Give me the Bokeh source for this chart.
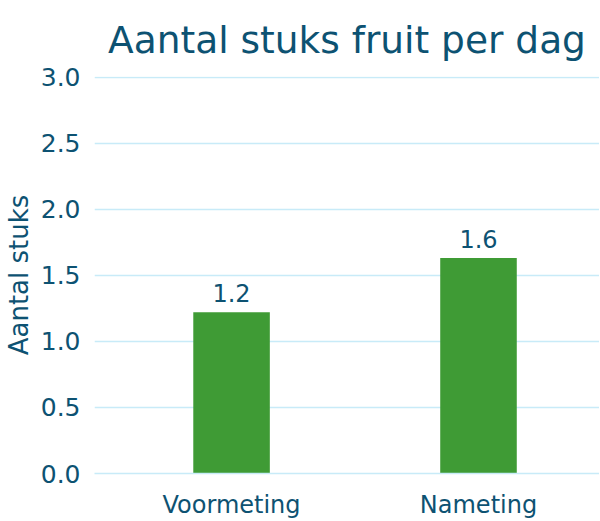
from bokeh.plotting import figure
from bokeh.models import ColumnDataSource, Range1d, FixedTicker
from bokeh.core.properties import value
from bokeh.embed import file_html
from bokeh.resources import INLINE

title_text = "Aantal stuks fruit per dag"
categories = ["Voormeting", "Nameting"]
values = [1.22, 1.63]
value_labels = ["1.2", "1.6"]
y_ticks = [0.0, 0.5, 1.0, 1.5, 2.0, 2.5, 3.0]

TEXT = "#0d5272"
GRID = "#c8ebf8"
BAR = "#3f9b35"
FONT = "DejaVu Sans"

xs = [i + 0.5 for i in range(len(categories))]
src = ColumnDataSource(dict(x=xs, top=values, lab=value_labels))

p = figure(frame_width=505, frame_height=397, output_backend="svg", toolbar_location=None,
           x_range=Range1d(-0.055, 1.99), y_range=Range1d(0, 3.004),
           min_border_left=87, min_border_right=0, min_border_top=0, min_border_bottom=0,
           title=title_text)
p.outline_line_color = None
p.background_fill_color = "white"
p.border_fill_color = "white"

p.title.text_font = FONT
p.title.text_font_size = "37.5px"
p.title.text_font_style = "normal"
p.title.text_color = TEXT
p.title.align = "center"
p.title.offset = 0
p.title.standoff = 30
p.title.text_line_height = 0.8

p.vbar(x="x", top="top", bottom=0, width=0.31, source=src, color=BAR, line_color=None)
p.text(x="x", y="top", text="lab", source=src, text_align="center", text_baseline="bottom",
       y_offset=-10, text_font=value(FONT), text_font_size="24px", text_color=TEXT)

p.xgrid.grid_line_color = None
p.ygrid.grid_line_color = GRID
p.ygrid.grid_line_width = 1.5

p.yaxis.ticker = FixedTicker(ticks=y_ticks)
p.yaxis.major_label_overrides = {t: f"{t:.1f}" for t in y_ticks}
p.yaxis.axis_line_color = None
p.yaxis.major_tick_line_color = None
p.yaxis.minor_tick_line_color = None
p.yaxis.major_label_text_font = FONT
p.yaxis.major_label_text_font_size = "25px"
p.yaxis.major_label_text_color = TEXT
p.yaxis.major_label_standoff = 8
p.yaxis.axis_label = "Aantal stuks"
p.yaxis.axis_label_text_font = FONT
p.yaxis.axis_label_text_font_size = "26px"
p.yaxis.axis_label_text_font_style = "normal"
p.yaxis.axis_label_text_color = TEXT
p.yaxis.axis_label_standoff = 4

p.xaxis.ticker = FixedTicker(ticks=xs)
p.xaxis.major_label_overrides = {x: c for x, c in zip(xs, categories)}
p.xaxis.axis_line_color = GRID
p.xaxis.axis_line_width = 1.5
p.xaxis.major_tick_line_color = None
p.xaxis.minor_tick_line_color = None
p.xaxis.major_label_text_font = FONT
p.xaxis.major_label_text_font_size = "24px"
p.xaxis.major_label_text_color = TEXT
p.xaxis.major_label_standoff = 11

open("out.html", "w").write(file_html(p, INLINE))
